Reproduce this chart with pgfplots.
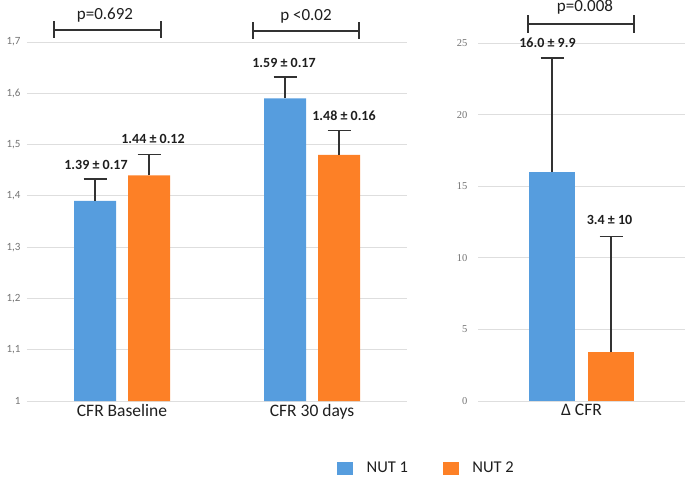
\documentclass[border=0pt]{standalone}
\usepackage{fontspec}
\setmainfont{Carlito}
\newfontfamily\serifnum{Liberation Serif}
\usepackage{pgfplots}
\pgfplotsset{compat=1.18}
\definecolor{nutblue}{RGB}{86,157,222}
\definecolor{nutorange}{RGB}{253,128,38}
\definecolor{gridc}{RGB}{222,222,222}
\definecolor{tickc}{RGB}{115,115,115}
\definecolor{brk}{RGB}{50,50,50}
\definecolor{txt}{RGB}{30,30,30}
\pgfplotsset{
  panel/.style={
    scale only axis, clip=false,
    axis line style={draw=none},
    major tick length=0pt,
    ymajorgrids, major grid style={gridc, line width=0.8pt},
    xtick=data,
    xticklabel style={font=\fontsize{17.5}{20}\selectfont, text=txt},
    ybar,
  },
  errstyle/.style={error bars/.cd, y dir=plus, y explicit,
    error bar style={draw=brk, line width=1.3pt},
    error mark options={draw=brk, line width=1.3pt, mark size=11.5pt, rotate=90}},
}
\tikzset{vlab/.style={font=\bfseries\fontsize{14}{16}\selectfont, text=txt}}
\begin{document}
\begin{tikzpicture}[x=1pt,y=1pt]
\useasboundingbox (0,0) rectangle (685,479);
\begin{axis}[panel, at={(27pt,78pt)}, anchor=south west,
  width=380pt, height=359pt,
  xmin=-0.5, xmax=1.5, ymin=1, ymax=1.7,
  ytick={1,1.1,1.2,1.3,1.4,1.5,1.6,1.7},
  yticklabel style={font=\fontsize{11}{13}\selectfont, text=tickc, xshift=-3pt,
    /pgf/number format/.cd, use comma, fixed, precision=1},
  /pgf/number format/assume math mode=true,
  xticklabels={CFR Baseline, CFR 30 days},
  bar width=42pt,
  legend style={at={(1.0487,-0.1866)}, anchor=center, draw=none, fill=none,
    legend columns=2, font=\fontsize{16.5}{19}\selectfont, text=txt,
    nodes={inner sep=0pt},
    /tikz/every odd column/.append style={column sep=14pt},
    /tikz/every even column/.append style={column sep=35pt}},
]
\addplot[fill=nutblue, draw=none, bar shift=-27pt, forget plot, errstyle]
  coordinates {(0,1.39) +- (0,0.043) (1,1.59) +- (0,0.042)};
\addplot[fill=nutorange, draw=none, bar shift=27pt, forget plot, errstyle]
  coordinates {(0,1.44) +- (0,0.040) (1,1.48) +- (0,0.048)};
\addlegendimage{legend image code/.code={\fill[nutblue] (0pt,-6pt) rectangle (15pt,6pt);}}
\addlegendentry{NUT 1}
\addlegendimage{legend image code/.code={\fill[nutorange] (0pt,-6pt) rectangle (15pt,6pt);}}
\addlegendentry{NUT 2}
\node[vlab, xshift=-26pt] at (axis cs:0,1.46) {1.39 ± 0.17};
\node[vlab, xshift=31pt] at (axis cs:0,1.511) {1.44 ± 0.12};
\node[vlab, xshift=-28pt] at (axis cs:1,1.659) {1.59 ± 0.17};
\node[vlab, xshift=32pt] at (axis cs:1,1.556) {1.48 ± 0.16};
\end{axis}
\begin{axis}[panel, at={(478pt,78pt)}, anchor=south west,
  width=207pt, height=358pt,
  xmin=-0.5, xmax=0.5, ymin=0, ymax=25,
  ytick={0,5,10,15,20,25},
  yticklabel style={font=\serifnum\fontsize{10.5}{12}\selectfont, text=tickc, xshift=-7pt},
  /pgf/number format/assume math mode=true,
  xticklabels={Δ CFR},
  bar width=46pt,
]
\addplot[fill=nutblue, draw=none, bar shift=-29.5pt, errstyle]
  coordinates {(0,16.0) +- (0,7.95)};
\addplot[fill=nutorange, draw=none, bar shift=29.5pt, errstyle]
  coordinates {(0,3.4) +- (0,8.1)};
\node[vlab, xshift=-34pt] at (axis cs:0,25.0) {16.0 ± 9.9};
\node[vlab, xshift=28pt] at (axis cs:0,12.64) {3.4 ± 10};
\end{axis}
% significance brackets
\begin{scope}[draw=brk, line width=1.3pt]
\draw (54,449) -- (161,449); \draw (54,441) -- (54,458); \draw (161,441) -- (161,458);
\draw (253,448) -- (359,448); \draw (253,440) -- (253,457); \draw (359,440) -- (359,457);
\draw (528,455) -- (634,455); \draw (528,446) -- (528,464); \draw (634,446) -- (634,464);
\end{scope}
\node[font=\fontsize{17}{19}\selectfont, text=txt] at (105,464) {p=0.692};
\node[font=\fontsize{17}{19}\selectfont, text=txt] at (306,463) {p <0.02};
\node[font=\fontsize{17}{19}\selectfont, text=txt] at (585,472) {p=0.008};
\end{tikzpicture}
\end{document}
